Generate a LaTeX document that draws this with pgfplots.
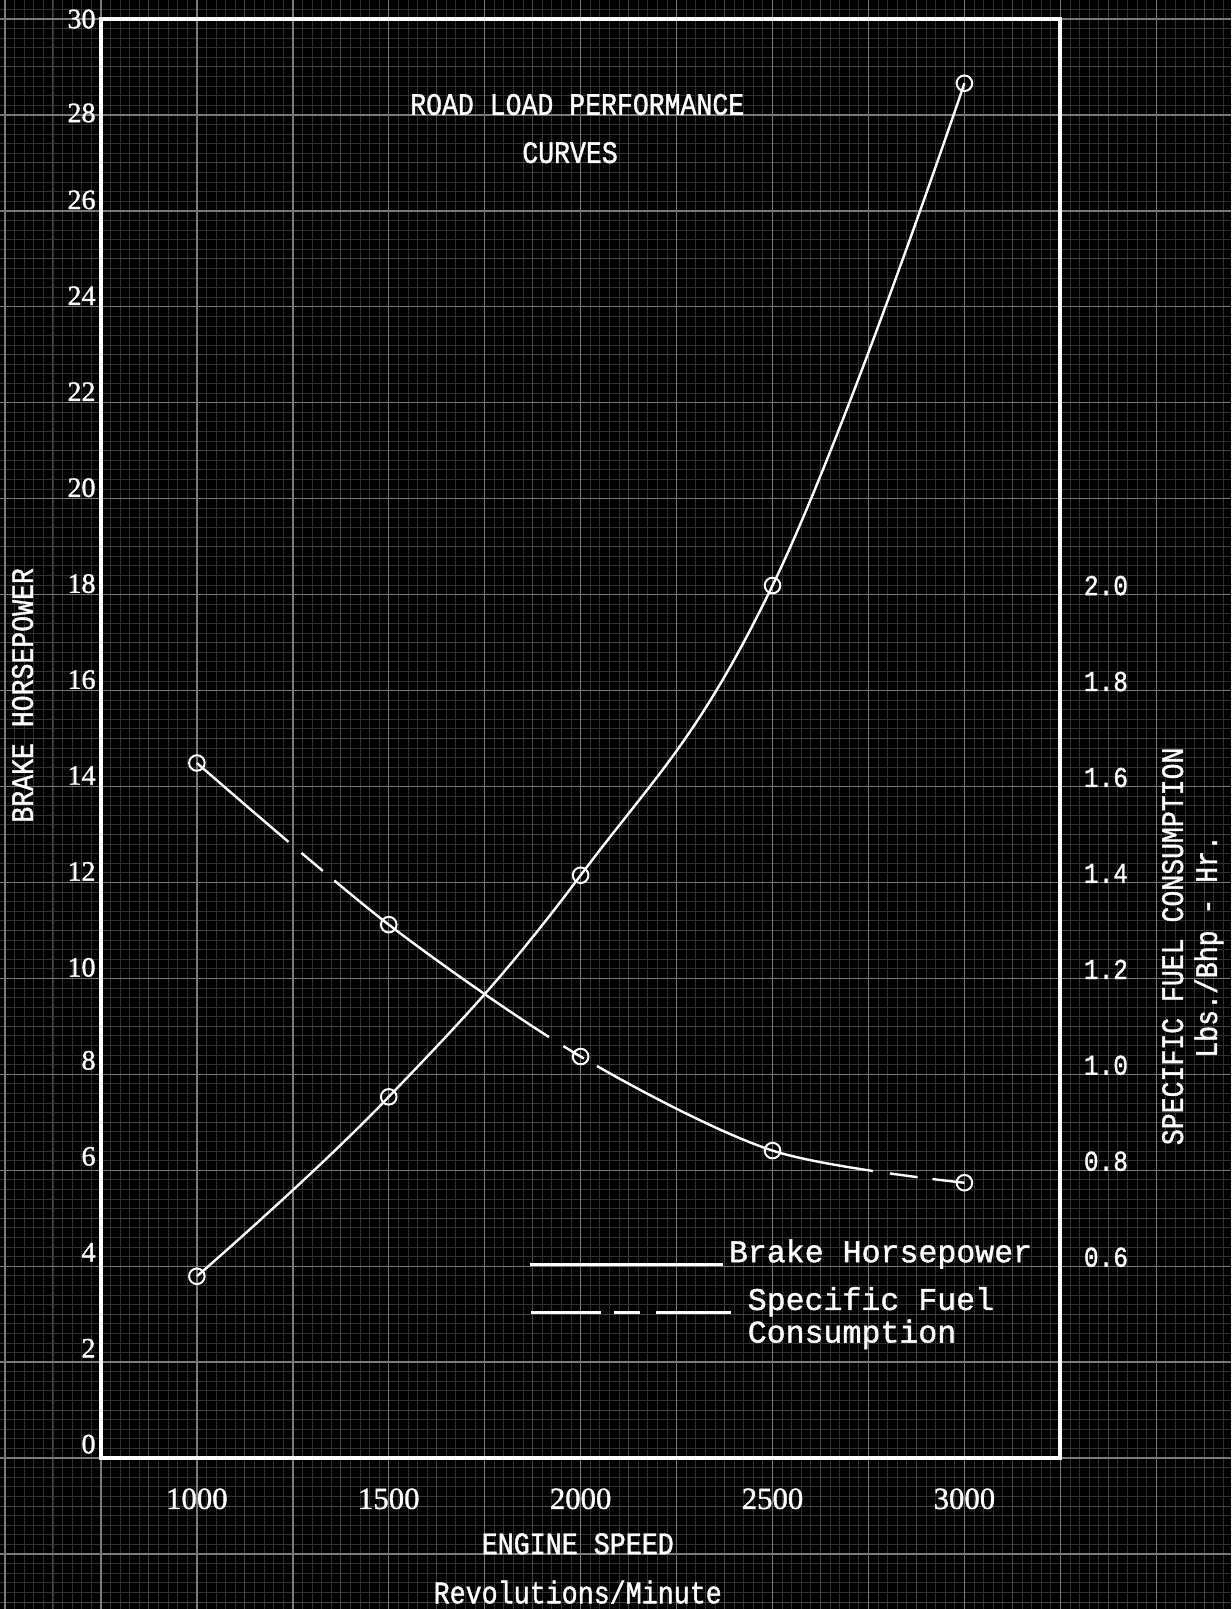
\documentclass[border=0pt]{standalone}
\usepackage{fontspec}
\setmainfont{Liberation Mono}
\newfontfamily\tw[FakeStretch=0.85, FakeBold=1.2]{Liberation Mono}
\newfontfamily\twr[FakeBold=1.2]{Liberation Mono}
\newfontfamily\ser[FakeBold=1.2]{Liberation Serif}
\usepackage{pgfplots}
\usepackage{pgfplotstable}
\pgfplotsset{compat=1.18}

\pgfplotstableread{
rpm bhp
1000 3.79
1500 7.53
2000 12.15
2500 18.19
3000 28.66
}\bhpdata
\pgfplotstableread{
rpm sfc
1000 1.649
1500 1.312
2000 1.037
2500 0.841
3000 0.774
}\sfcdata

\begin{document}
\begin{tikzpicture}
% graph paper background
\fill[black] (-50.5pt,-75.5pt) rectangle (565.5pt,729.5pt);
\draw[white!19!black, line width=0.45pt, step=4.8pt] (-50.5pt,-75.5pt) grid (565.5pt,729.5pt);
\draw[white!27!black, line width=0.5pt, step=24pt] (-50.5pt,-75.5pt) grid (565.5pt,729.5pt);
\draw[white!48!black, line width=0.7pt, step=48pt] (-50.5pt,-75.5pt) grid (565.5pt,729.5pt);

\begin{axis}[
  scale only axis, width=480pt, height=720pt,
  xmin=750, xmax=3250, ymin=0, ymax=30,
  axis line style={white, line width=2pt},
  major tick length=0pt,
  xtick={1000,1500,2000,2500,3000},
  xticklabels={1000,1500,2000,2500,3000},
  ytick={0,2,4,6,8,10,12,14,16,18,20,22,24,26,28,30},
  yticklabels={\raisebox{1.5pt}{0},\raisebox{1.5pt}{2},\raisebox{1.5pt}{4},\raisebox{1.5pt}{6},\raisebox{1.5pt}{8},10,12,14,16,18,20,22,24,26,\raisebox{-4.5pt}{28},\raisebox{-5.5pt}{30}},
  xticklabel style={font=\ser\fontsize{15.4}{18}\selectfont, text=white, anchor=north, inner sep=0pt, yshift=-15pt},
  yticklabel style={font=\ser\fontsize{14}{16}\selectfont, text=white, anchor=base east, inner sep=0pt, xshift=-2.5pt, yshift=0.9pt},
  xlabel={ENGINE SPEED\\Revolutions/Minute},
  xlabel style={at={(axis description cs:0.497,0)}, anchor=center, yshift=-55.2pt, align=center, font=\tw\fontsize{15.7}{24.6}\selectfont, text=white},
  ylabel={BRAKE HORSEPOWER},
  ylabel style={at={(axis description cs:-0.0817,0.530)}, anchor=center, font=\tw\fontsize{15.6}{18}\selectfont, text=white},
]
\addplot[white, line width=1.2pt, smooth, tension=0.7, mark=o, mark size=3.9pt,
  mark options={solid, fill=black, line width=1pt}] table[x=rpm,y=bhp]{\bhpdata};
\end{axis}

\begin{axis}[
  scale only axis, width=480pt, height=720pt,
  xmin=750, xmax=3250, ymin=0.2, ymax=3.2,
  axis x line=none, axis y line*=right,
  axis line style={draw=none},
  major tick length=0pt,
  ytick={0.6,0.8,1.0,1.2,1.4,1.6,1.8,2.0},
  yticklabels={0.6,0.8,1.0,1.2,1.4,1.6,1.8,2.0},
  yticklabel style={font=\tw\fontsize{14.4}{16}\selectfont, text=white, anchor=west, inner sep=0pt, xshift=11.6pt, yshift=4.5pt},
  ylabel={SPECIFIC FUEL CONSUMPTION\\Lbs./Bhp - Hr.},
  ylabel style={at={(axis description cs:1.138,0.3556)}, anchor=center, align=center, font=\tw\fontsize{15.6}{17}\selectfont, text=white},
]
\addplot[white, line width=1.2pt, smooth,
  dash pattern=on 60.5pt off 8.5pt on 14pt off 7.5pt on 133pt off 8.5pt on 12pt off 7.5pt on 149pt off 8.5pt on 14pt off 7.5pt on 300pt off 1pt,
  mark=o, mark size=3.9pt,
  mark options={solid, fill=black, line width=1pt}] table[x=rpm,y=sfc]{\sfcdata};
\end{axis}

% title
\node[white, font=\tw\fontsize{15.6}{18}\selectfont] at (238.3pt,677.2pt) {ROAD LOAD PERFORMANCE};
\node[white, font=\tw\fontsize{15.6}{18}\selectfont] at (234.7pt,653.1pt) {CURVES};

% legend
\draw[white, line width=1.5pt] (214.7pt,97.1pt) -- (311.1pt,97.1pt);
\node[white, anchor=base west, inner sep=0pt, font=\twr\fontsize{15.8}{18}\selectfont] at (314pt,98pt) {Brake Horsepower};
\draw[white, line width=1.5pt, dash pattern=on 35pt off 6.5pt on 13pt off 8pt on 40pt] (215.2pt,73pt) -- (315.2pt,73pt);
\node[white, anchor=base west, inner sep=0pt, font=\twr\fontsize{15.8}{18}\selectfont] at (323.4pt,74.1pt) {Specific Fuel};
\node[white, anchor=base west, inner sep=0pt, font=\twr\fontsize{15.8}{18}\selectfont] at (323.4pt,57.8pt) {Consumption};

\pgfresetboundingbox
\path[use as bounding box] (-50.5pt,-75.5pt) rectangle (565.5pt,729.5pt);
\end{tikzpicture}
\end{document}
